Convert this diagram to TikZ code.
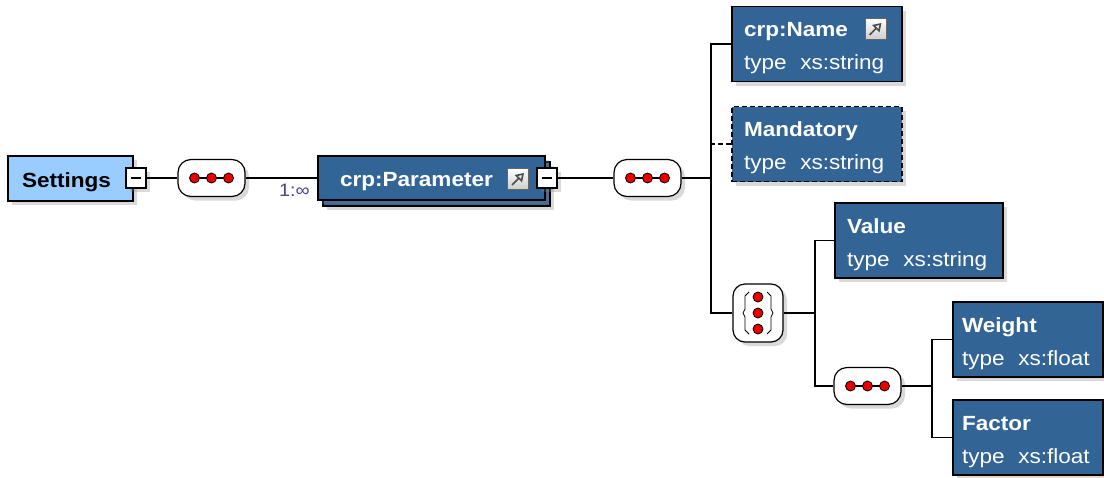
\documentclass[tikz,border=0pt]{standalone}
\usepackage{fontspec}
\setmainfont{Liberation Sans}[FakeStretch=1.1]
\usetikzlibrary{shadows,arrows.meta}
\definecolor{xsdblue}{RGB}{51,100,150}
\definecolor{xsdlight}{RGB}{153,204,255}
\definecolor{multcol}{RGB}{80,60,140}
\definecolor{dotred}{RGB}{235,0,0}
\tikzset{
  shade/.style={drop shadow={opacity=.3,shadow xshift=4pt,shadow yshift=-4pt}},
  elem/.style={draw=black,line width=1.2,fill=xsdblue,text=white,align=left,inner xsep=12,inner ysep=0,
    minimum height=75,shade,font=\fontsize{20.5}{33}\selectfont,execute at begin node={\rule{0pt}{23pt}}},
  single/.style={execute at begin node={},text height=19,text depth=2},
  root/.style={draw=black,line width=1.2,fill=xsdlight,text=black,align=left,inner xsep=14,inner ysep=0,
    minimum height=45,shade,font=\fontsize{20.5}{33}\selectfont\bfseries,text height=19,text depth=2},
  seq/.style={draw=black,line width=1.2,fill=white,rounded corners=13,minimum width=67,minimum height=37,shade},
  choice/.style={draw=black,line width=1.2,fill=white,rounded corners=12,minimum width=50,minimum height=58,shade},
  minus/.style={draw=black,line width=1.2,fill=white,minimum size=20,inner sep=0,shade},
  refbox/.style={draw=black!60,line width=.8,top color=white,bottom color=black!20,minimum size=21,inner sep=0},
  link/.style={line width=1.2},
  mult/.style={text=multcol,inner sep=1,font=\fontsize{18}{20}\selectfont}
}
\begin{document}
\begin{tikzpicture}[x=1pt,y=-1pt]
\useasboundingbox (0,0) rectangle (1104,477);
            \node[root,text width=97] (set) at (70.5,178.5) {Settings};
            \node[minus] (setm) at (136,178) {};
            \node[seq] (s1) at (211.5,178) {};
            \node[elem,single,minimum height=44,text width=183,inner xsep=22] (paramback) at (436.5,184) {};
            \node[elem,single,minimum height=44,text width=183,inner xsep=22] (param) at (431.5,178) {\textbf{crp:Parameter}};
            \node[refbox] (paramref) at (518,179) {};
            \node[minus] (paramm) at (547,178) {};
            \node[seq] (s2) at (647.5,178) {};
            \node[elem,text width=146] (name) at (817,44) {\textbf{crp:Name}\\type\ \ xs:string};
            \node[refbox] (nameref) at (875.5,29) {};
            \node[elem,text width=146,dash pattern=on 5pt off 3pt] (mand) at (817,144) {\textbf{Mandatory}\\type\ \ xs:string};
            \node[choice] (ch) at (758,313) {};
            \node[elem,text width=144] (val) at (919,240.5) {\textbf{Value}\\type\ \ xs:string};
            \node[seq] (s3) at (867.5,386) {};
            \node[elem,text width=132,inner xsep=9] (wt) at (1028,339.5) {\textbf{Weight}\\type\ \ xs:float};
            \node[elem,text width=132,inner xsep=9] (fac) at (1028,437.5) {\textbf{Factor}\\type\ \ xs:float};
            \coordinate (b1) at (711,178);
            \coordinate (b2) at (815,313);
            \coordinate (b3) at (932,386);
            \draw[link] (setm) -- (s1);
            \draw[link] (s1) -- (param.west) node[mult,anchor=north east,xshift=-6,yshift=-5] (m1) {1:∞};
            \draw[link] (paramm) -- (s2);
            \draw[link] (s2) -- (b1);
            \draw[link] (name.west) -| (b1) |- (ch.west);
            \draw[link,dash pattern=on 5pt off 3pt] (mand.west) -- (mand.west -| b1);
            \draw[link] (ch) -- (b2);
            \draw[link] (val.west) -| (b2) |- (s3.west);
            \draw[link] (s3) -- (b3);
            \draw[link] (wt.west) -| (b3) |- (fac.west);
            \draw[line width=1.3] ([xshift=-5]setm.center) -- ([xshift=5]setm.center);
            \draw[line width=1.3] ([xshift=-5]paramm.center) -- ([xshift=5]paramm.center);
            \foreach \r in {paramref,nameref}
              \draw[black!70,line width=1.6,-{Triangle[open,length=8,width=10]}] ([shift={(-6,6)}]\r.center) -- ([shift={(6,-6)}]\r.center);
            \foreach \s in {s1,s2,s3}{
              \draw[line width=1.2] ([xshift=-17]\s.center) -- ([xshift=17]\s.center);
              \foreach \d in {-17,0,17}
                \draw[fill=dotred,line width=.8] ([xshift=\d]\s.center) circle (5);
            }
            \foreach \d in {-16,0,16}
              \draw[fill=dotred,line width=.8] ([yshift=\d]ch.center) circle (5);
            \draw[line width=.8] (749,292) -- (745,296) -- (745,309) -- (743,313) -- (745,317) -- (745,330) -- (749,334);
            \draw[line width=.8] (767,292) -- (771,296) -- (771,309) -- (773,313) -- (771,317) -- (771,330) -- (767,334);
\end{tikzpicture}
\end{document}
